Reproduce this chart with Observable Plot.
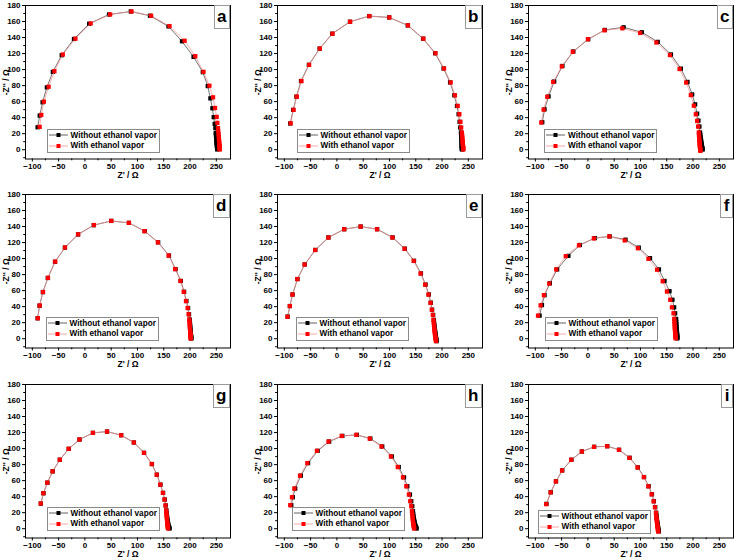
<!DOCTYPE html>
<html><head><meta charset="utf-8">
<script src="https://cdn.jsdelivr.net/npm/d3@7"></script>
<script src="https://cdn.jsdelivr.net/npm/@observablehq/plot@0.6"></script>
<style>
body{margin:0;background:#fff;}
#root{position:relative;width:734px;height:560px;overflow:hidden;background:#fff;font-family:"Liberation Sans",Arial,sans-serif;}
.panel{position:absolute;width:232px;height:186px;}
.panel svg{display:block;}
.legend{position:absolute;border:1px solid #8a8a8a;background:#fff;padding:0.5px 2px 0.5px 1px;font-weight:bold;font-size:8.2px;color:#000;white-space:nowrap;}
.legend .row{display:flex;align-items:center;height:10.5px;}
.legend svg{margin-right:3px;}
.letter{position:absolute;top:4.5px;right:2px;border:1px solid #999;background:#fff;font-weight:bold;font-size:17px;line-height:22px;padding:0 2.5px;color:#000;}
</style>
</head><body>
<div id="root"></div>
<script>
// ---- tick values & texts ----
const xTicks = [-100, -50, 0, 50, 100, 150, 200, 250];
const xMinorTicks = [-75, -25, 25, 75, 125, 175, 225];
const yTicks = [0, 20, 40, 60, 80, 100, 120, 140, 160, 180];
const yMinorTicks = [-10, 10, 30, 50, 70, 90, 110, 130, 150, 170];
const xTitle = "Z' / Ω";
const yTitle = "-Z'' / Ω";
const seriesNames = ["Without ethanol vapor", "With ethanol vapor"];
const panelLetters = ["a", "b", "c", "d", "e", "f", "g", "h", "i"];

// ---- data: [Z', -Z''] ----
const aWithout = [[-90,28],[-86,42.6],[-80.5,59.2],[-72.4,77.8],[-61,97.2],[-44.1,117.9],[-20.8,138.2],[8.1,157.2],[45.8,168.8],[87.3,172.5],[123.8,167.2],[159,153.9],[184.7,135.3],[206.7,115.9],[224.3,96.8],[233.7,79.4],[238.7,64.1],[242.5,51.7],[245,40.6],[246.9,32.3],[248.2,26.9],[248.8,20.7],[249.3,18],[249.6,15.5],[249.9,13],[250.2,10.5],[250.5,8.5],[250.8,6.5],[251.1,4.8],[251.3,3.3],[251.5,2],[251.7,1],[251.8,0.3]];
const aWith = [[-86.1,28.5],[-83,43.4],[-78,60],[-69,78.6],[-58,98],[-42,118.8],[-18,138.6],[11,157.6],[48,168.8],[88.7,172.5],[126,167.2],[161,154.3],[189.7,136],[210,116.7],[225.6,97.2],[236.9,79.9],[243.8,65.4],[247.6,52.1],[250.7,41],[252,33.5],[253.2,27],[253.8,23],[254.3,19.5],[254.7,16.5],[255,13.5],[255.3,11],[255.6,8.5],[255.9,6.5],[256.1,4.7],[256.3,3.2],[256.5,2],[256.6,1],[256.7,0.3]];
const bWithout = [[-88.8,32.7],[-83.2,49.7],[-77,66.2],[-68.3,85.7],[-53.4,105.9],[-32.9,126.2],[-8.8,144.8],[24.8,159.7],[61.4,166.8],[99.3,165.1],[134.7,155.2],[163.9,138.6],[186.8,120.4],[202.9,101.4],[215.3,84],[223.4,67.9],[228.4,54.6],[231.5,44.3],[233.4,34.8],[234.6,27.7],[235.9,21.5],[236.3,18],[236.6,15],[236.8,12.3],[237,10],[237.2,8],[237.3,6.2],[237.5,4.6],[237.6,3.2],[237.7,2],[237.8,1],[237.9,0.3]];
const bWith = [[-88,33],[-82.5,49.7],[-76.3,66.2],[-67.5,85.7],[-52.8,105.9],[-32.4,126.2],[-8.4,144.8],[25.2,159.7],[61.8,166.8],[99.8,165.1],[135.3,155.2],[164.6,138.6],[187.6,120.4],[203.9,101.4],[216.4,84],[224.6,67.9],[229.8,54.6],[233,44.3],[235,34.8],[236.4,27.7],[237.8,21.5],[238.3,18],[238.7,15],[239,12.3],[239.3,10],[239.5,8],[239.7,6.2],[239.9,4.6],[240.1,3.2],[240.2,2],[240.3,1],[240.4,0.3]];
const cWithout = [[-86.8,34.3],[-82.4,50.4],[-74.8,66.5],[-64.1,85.1],[-48.4,104.5],[-27.6,122.6],[0.7,137.9],[32.1,149.5],[68,152.8],[102.6,146.6],[132.9,134.6],[158,118.9],[176.9,101.2],[189.5,84.6],[198.4,69],[204,56.6],[207.8,45],[210.3,36.3],[212.2,28.9],[213.4,21.5],[214,18.5],[214.6,15.5],[215.1,13],[215.6,10.5],[216.1,8.5],[216.5,6.5],[216.9,4.8],[217.3,3.3],[217.6,2],[217.9,1],[218.2,0.2]];
const cWith = [[-88.7,33.9],[-84.3,50],[-77.3,66],[-66,84.6],[-49.6,104],[-28.8,122.2],[0,137.9],[31.5,149],[65.5,151.5],[99.4,145.7],[130.3,133.8],[156.1,118.1],[174.4,100.7],[187,83.8],[195.8,68.1],[201.5,54.9],[205.3,44.2],[207.8,35.9],[209.7,28.9],[211,21.5],[211.3,18.5],[211.6,15.5],[211.9,13],[212.2,10.5],[212.5,8.5],[212.7,6.5],[213,4.8],[213.2,3.3],[213.4,2],[213.6,0.8],[213.8,-0.5],[214,-1.5]];
const dWithout = [[-90,25.5],[-86.3,41.2],[-80,58.1],[-70.6,75.8],[-56.9,96],[-38.1,113.7],[-13.1,130.1],[16.9,141.7],[50,147],[83.8,144.6],[113.8,134.3],[139.4,120.3],[160,103.8],[172.5,86.9],[182.5,72.1],[188.8,58.5],[193.1,47],[196.3,38.3],[198.1,30.5],[199.4,23.9],[199.8,20.5],[200.2,17.5],[200.5,14.8],[200.8,12.3],[201.1,10],[201.4,8],[201.6,6.2],[201.8,4.6],[202,3.2],[202.2,2],[202.4,1],[202.5,0.2]];
const dWith = [[-89.6,25.5],[-86,41.4],[-79.6,58.3],[-70.2,76],[-56.5,96.2],[-37.8,113.9],[-12.8,130.3],[17.2,141.9],[50.2,147.1],[83.6,144.6],[113.4,134.3],[138.8,120.3],[159.3,103.8],[171.8,86.9],[181.7,72.1],[188,58.5],[192.3,47],[195.5,38.3],[197.3,30.5],[198.6,23.9],[199,20.5],[199.3,17.5],[199.6,14.8],[199.9,12.3],[200.2,10],[200.4,8],[200.6,6.2],[200.8,4.6],[201,3.2],[201.2,2],[201.3,1],[201.4,0.2]];
const eWithout = [[-93.7,27.6],[-89.4,40.8],[-84.3,55.2],[-75,74.5],[-61.2,92.7],[-41.1,110.8],[-16,126.4],[14,136.7],[45.3,140],[76.6,136.7],[106,126.4],[129.2,112.4],[146.7,97.2],[159.9,81.5],[168.7,67.5],[174.9,55.2],[178.7,44.9],[181.2,36.2],[183.1,29.7],[184.4,23.5],[185,20],[185.5,17],[186,14],[186.5,11.3],[187,9],[187.4,6.8],[187.8,4.8],[188.2,3],[188.6,1.2],[189,-0.3],[189.3,-1.8],[189.6,-3]];
const eWith = [[-93.9,27.4],[-89.6,40.7],[-84.5,55.1],[-75.2,74.4],[-61.4,92.6],[-41.3,110.7],[-16.2,126.3],[13.8,136.6],[45,139.9],[76.3,136.6],[105.6,126.3],[128.7,112.3],[146.1,97.1],[159.2,81.4],[168,67.4],[174.2,55.1],[178,44.8],[180.5,36.1],[182.4,29.6],[183.7,23.4],[184.2,20],[184.7,17],[185.1,14],[185.5,11.3],[185.9,9],[186.3,6.8],[186.7,4.8],[187.1,3],[187.5,1.2],[187.9,-0.3],[188.3,-1.8],[188.6,-3]];
const fWithout = [[-91.8,28.8],[-87.4,42],[-82.4,54.4],[-72.3,69.2],[-58.5,86.5],[-37.1,103.4],[-15.2,117],[13.1,125.6],[41.4,127.7],[71.6,123.6],[96.8,113.7],[118.2,100.5],[135.2,86.5],[145.8,72.1],[155.3,59.3],[160.9,48.6],[164.1,39.1],[166,31.7],[167.9,24.7],[168.2,21],[168.5,18],[168.8,15],[169,12.5],[169.3,10],[169.5,8],[169.7,6],[169.9,4.3],[170.1,2.8],[170.2,1.5],[170.3,0.4]];
const fWith = [[-94.9,28.8],[-90,41.6],[-83.7,54.4],[-73.5,68.8],[-60.3,86.5],[-42.1,103],[-17,116.6],[11.3,125.2],[40.8,127.7],[70,122.7],[95.1,112.9],[115.2,99.7],[131.6,86.1],[142.3,71.7],[150.4,58.9],[156.7,48.6],[159.8,39.1],[162.9,31.7],[164.2,24.7],[164.5,21],[164.8,18],[165.1,15],[165.4,12.5],[165.7,10],[166,8],[166.2,6],[166.4,4.3],[166.6,2.8],[166.8,1.5],[167,0.4]];
const gWithout = [[-83.8,31.4],[-78.8,44.3],[-71.3,57.5],[-61.3,71.6],[-47.6,86.1],[-30.7,99.7],[-10.2,111.3],[15.4,119.6],[42.2,121.2],[69,116.7],[93.3,107.6],[112.6,94.7],[127.6,80.7],[137,67.4],[143.8,55],[148.8,44.7],[151.9,36.4],[153.8,29],[155.1,22.8],[155.6,19.5],[156.1,16.5],[156.6,14],[157.1,11.5],[157.6,9.3],[158.1,7.3],[158.6,5.5],[159.2,3.8],[159.8,2.4],[160.5,1.2],[161.2,0.3]];
const gWith = [[-84,31.4],[-79,44.3],[-71.5,57.5],[-61.5,71.6],[-47.8,86.1],[-30.9,99.7],[-10.4,111.3],[15.2,119.6],[42,121.2],[68.8,116.7],[93,107.6],[112.3,94.7],[127.2,80.7],[136.6,67.4],[143.4,55],[148.3,44.7],[151.4,36.4],[153.3,29],[154.6,22.8],[155,19.5],[155.4,16.5],[155.8,14],[156.1,11.5],[156.4,9.3],[156.7,7.3],[157,5.5],[157.3,3.8],[157.6,2.4],[157.9,1.2],[158.2,0.3]];
const hWithout = [[-86.8,29.4],[-83.7,39.3],[-79.3,50.1],[-68.6,66.2],[-54.8,81.9],[-36.6,97.2],[-14.7,108.8],[10.4,115.8],[38,117.1],[63.7,112.5],[86.3,102.6],[104.5,90.2],[117.7,77],[127.7,64.1],[134,53],[139,42.6],[141.5,34.3],[143.4,28.1],[144.7,21.9],[145.3,18.5],[145.9,15.5],[146.5,13],[147.1,10.5],[147.7,8.5],[148.3,6.5],[148.9,4.8],[149.6,3.3],[150.3,2],[151,1],[151.6,0.2]];
const hWith = [[-88.8,29.4],[-85.5,39.3],[-81,50.1],[-70.2,66.2],[-56.3,81.9],[-38,97.2],[-16,108.8],[9.2,115.8],[37,117.1],[62.5,112.5],[84.8,102.6],[102.8,90.2],[115.8,77],[125.7,64.1],[132,53],[137,42.6],[139.5,34.3],[141.4,28.1],[142.7,21.9],[143.2,18.5],[143.7,15.5],[144.1,13],[144.5,10.5],[144.9,8.5],[145.3,6.5],[145.7,4.8],[146.1,3.3],[146.5,2],[146.8,1],[147.1,0.2]];
const iWithout = [[-78.8,31],[-70.6,45.5],[-60.6,59.2],[-48.8,72.8],[-31.3,86.1],[-11.3,96.4],[11.9,102.2],[36.9,103],[59.4,98.5],[79.4,88.5],[95,76.5],[106.9,64.5],[115.6,53],[121.9,43],[125.6,34.3],[128.1,26.9],[130,19.9],[130.5,16.5],[131,13.5],[131.5,10.8],[132,8.3],[132.5,6],[133,4],[133.4,2.2],[133.8,0.5],[134.2,-1],[134.6,-2.3],[135,-3.3]];
const iWith = [[-79.2,30.6],[-71,45.3],[-61,59],[-49.2,72.6],[-31.7,86],[-11.6,96.3],[11.6,102.1],[36.6,102.9],[59,98.4],[79,88.4],[94.5,76.4],[106.4,64.4],[115,52.9],[121.3,42.9],[125,34.2],[127.5,26.8],[129.4,19.8],[129.9,16.4],[130.4,13.4],[130.9,10.7],[131.3,8.2],[131.7,5.9],[132.1,3.9],[132.5,2.1],[132.9,0.4],[133.2,-1.1],[133.5,-2.4],[133.8,-3.5]];

const withoutSeries = [aWithout, bWithout, cWithout, dWithout, eWithout, fWithout, gWithout, hWithout, iWithout];
const withSeries = [aWith, bWith, cWith, dWith, eWith, fWith, gWith, hWith, iWith];

// ---- styling / layout ----
const colors = {without: "#000000", withoutLine: "#3a3a3a", with: "#ff0000", withLine: "#f39090"};
const colLeft = [0, 252, 503];
const rowTop = [0, 189, 379];
const M = {left: 25, right: 2, top: 5, bottom: 27.5};
const W = 232, H = 186;
// legend offset from frame left, and gap above frame bottom
const legendPos = [[21.5,6],[19.5,6],[16,6],[20.5,7],[18.5,7],[16.5,7],[21.5,7],[14.5,7],[9.5,4]];

const root = document.getElementById("root");
const fontFamily = "'Liberation Sans', Arial, sans-serif";

function sampleSVG(lineColor, markColor) {
  return `<svg width="19" height="6"><line x1="0" y1="3" x2="19" y2="3" stroke="${lineColor}" stroke-width="0.8"/><rect x="7.5" y="1" width="4" height="4" fill="${markColor}"/></svg>`;
}

for (let k = 0; k < 9; k++) {
  const col = k % 3, row = Math.floor(k / 3);
  const div = document.createElement("div");
  div.className = "panel";
  div.style.left = colLeft[col] + "px";
  div.style.top = rowTop[row] + "px";

  const chart = Plot.plot({
    width: W, height: H,
    marginLeft: M.left, marginRight: M.right, marginTop: M.top, marginBottom: M.bottom,
    style: {fontFamily, fontSize: "8px", fontWeight: "bold", background: "transparent", color: "#000", overflow: "visible"},
    x: {domain: [-113, 277]},
    y: {domain: [-11.6, 180]},
    marks: [
      Plot.axisX({ticks: xMinorTicks, tickSize: 1.8, tickFormat: () => "", label: null}),
      Plot.axisX({ticks: xTicks, tickSize: 3, tickPadding: 1.5, label: null}),
      Plot.axisY({ticks: yMinorTicks, tickSize: 1.8, tickFormat: () => "", label: null}),
      Plot.axisY({ticks: yTicks, tickSize: 3, tickPadding: 2, label: null}),
      Plot.line(withoutSeries[k], {x: d => d[0], y: d => d[1], stroke: colors.withoutLine, strokeWidth: 0.7}),
      Plot.dot(withoutSeries[k], {x: d => d[0], y: d => d[1], symbol: "square", r: 2.4, fill: colors.without}),
      Plot.line(withSeries[k], {x: d => d[0], y: d => d[1], stroke: colors.withLine, strokeWidth: 0.7}),
      Plot.dot(withSeries[k], {x: d => d[0], y: d => d[1], symbol: "square", r: 2.4, fill: colors.with}),
      Plot.frame({stroke: "#000", strokeWidth: 1}),
      Plot.text([xTitle], {text: d => d, frameAnchor: "bottom", dy: 16, lineAnchor: "middle", textAnchor: "middle", fontSize: 8.5}),
      Plot.text([yTitle], {text: d => d, frameAnchor: "left", dx: -19, rotate: -90, lineAnchor: "middle", textAnchor: "middle", fontSize: 8.5})
    ]
  });
  div.appendChild(chart);

  // legend
  const leg = document.createElement("div");
  leg.className = "legend";
  leg.style.left = (M.left + legendPos[k][0]) + "px";
  leg.style.bottom = (M.bottom + legendPos[k][1]) + "px";
  leg.innerHTML =
    `<div class="row">${sampleSVG(colors.withoutLine, colors.without)}<span>${seriesNames[0]}</span></div>` +
    `<div class="row">${sampleSVG(colors.withLine, colors.with)}<span>${seriesNames[1]}</span></div>`;
  div.appendChild(leg);

  // panel letter
  const let_ = document.createElement("div");
  let_.className = "letter";
  let_.textContent = panelLetters[k];
  div.appendChild(let_);

  root.appendChild(div);
}
</script>
</body></html>
